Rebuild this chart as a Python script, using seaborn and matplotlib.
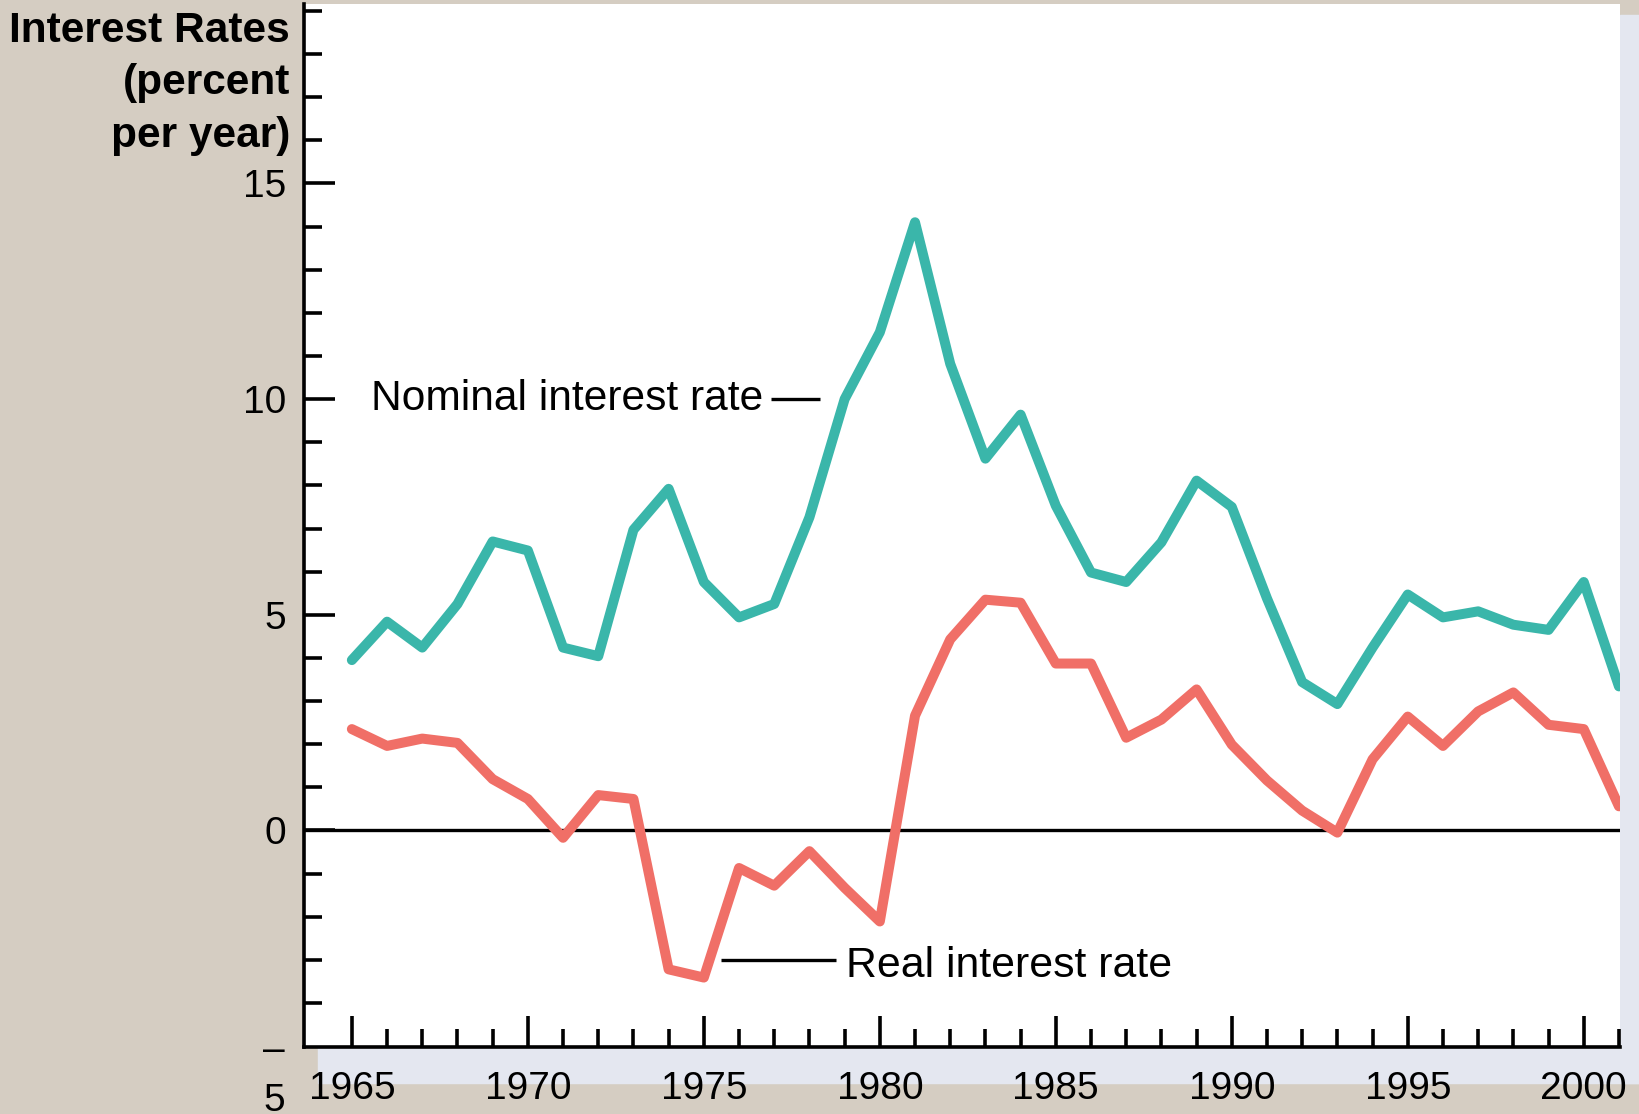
import matplotlib
matplotlib.use("Agg")
import matplotlib.pyplot as plt
import matplotlib.patches as mpatches
from matplotlib.ticker import FixedLocator
import seaborn as sns
import pandas as pd

years = list(range(1965, 2002))
nominal = [3.95, 4.84, 4.24, 5.25, 6.70, 6.49, 4.24, 4.04, 6.97, 7.92,
           5.76, 4.94, 5.25, 7.26, 10.0, 11.55, 14.1, 10.82, 8.62, 9.64,
           7.53, 5.98, 5.76, 6.68, 8.11, 7.50, 5.38, 3.44, 2.93, 4.24,
           5.47, 4.94, 5.08, 4.77, 4.65, 5.76, 3.34]
real = [2.35, 1.96, 2.13, 2.03, 1.19, 0.73, -0.17, 0.82, 0.73, -3.22,
        -3.41, -0.87, -1.28, -0.48, -1.33, -2.11, 2.66, 4.43, 5.35, 5.28,
        3.87, 3.87, 2.15, 2.57, 3.27, 1.99, 1.16, 0.46, -0.05, 1.65,
        2.64, 1.96, 2.76, 3.20, 2.45, 2.35, 0.56]

df = pd.DataFrame({"year": years, "nominal": nominal, "real": real})

TAN = "#d5cdc2"
BAND = "#e4e7f0"
TEAL = "#3ab6aa"
CORAL = "#f06f67"

sns.set_style("white")
plt.rcParams["font.family"] = ["Liberation Sans", "DejaVu Sans"]
plt.rcParams["text.color"] = "black"

fig = plt.figure(figsize=(16.39, 11.14), dpi=100, facecolor=TAN)
W, H = 1639, 1114

# light panel behind the plot (bottom strip + right column)
fig.patches.append(mpatches.Rectangle((318 / W, 1 - 1083 / H), (W - 318) / W, 36 / H,
                                      transform=fig.transFigure, color=BAND, zorder=-1))
fig.patches.append(mpatches.Rectangle((1620 / W, 1 - 1083 / H), 19 / W, (1083 - 15) / H,
                                      transform=fig.transFigure, color=BAND, zorder=-1))

ax = fig.add_axes([304 / W, 1 - 1047 / H, (1620 - 304) / W, (1047 - 4) / H])
ax.set_facecolor("white")

ax.axhline(0, color="black", lw=2.4, zorder=1)
sns.lineplot(data=df, x="year", y="nominal", ax=ax, color=TEAL, lw=7.2,
             solid_joinstyle="round", solid_capstyle="round", zorder=3)
sns.lineplot(data=df, x="year", y="real", ax=ax, color=CORAL, lw=7.2,
             solid_joinstyle="round", solid_capstyle="round", zorder=3)

ax.set_xlim(1963.64, 2001.03)
ax.set_ylim(-5.02, 19.16)
ax.set_xlabel("")
ax.set_ylabel("")

for s in ["top", "right"]:
    ax.spines[s].set_visible(False)
for s in ["left", "bottom"]:
    ax.spines[s].set_linewidth(2.6)
    ax.spines[s].set_color("black")

ax.set_xticks(range(1965, 2001, 5))
ax.xaxis.set_minor_locator(FixedLocator(range(1966, 2002)))
ax.set_yticks([0, 5, 10, 15], labels=["0", "5", "10", "15"])
ax.yaxis.set_minor_locator(FixedLocator(range(-4, 20)))

ax.tick_params(axis="both", which="both", bottom=True, left=True,
               direction="in", width=2.6, color="black")
ax.tick_params(axis="both", which="major", length=22, labelsize=28,
               labelcolor="black")
ax.tick_params(axis="both", which="minor", length=13)
ax.tick_params(axis="x", which="major", pad=17)
ax.tick_params(axis="y", which="major", pad=13)

# -5 label, written as in the original (dash above the 5)
ax.text(-0.0145, -5.7, "–\n5", transform=ax.get_yaxis_transform(), ha="right",
        va="center", fontsize=28, linespacing=1.5)

# series labels with leader lines
ax.text(1965.54, 10, "Nominal interest rate", fontsize=30.6, va="center", ha="left")
ax.hlines(10, 1976.9, 1978.3, color="black", lw=2.4)
ax.text(1979.05, -3.15, "Real interest rate", fontsize=30.8, va="center", ha="left")
ax.hlines(-3.0, 1975.48, 1978.75, color="black", lw=2.4)

fig.text(290 / W, 1 - 11 / H, "Interest Rates\n(percent\nper year)", ha="right",
         va="top", fontsize=30.5, fontweight="bold", linespacing=1.4,
         multialignment="right")

fig.savefig("out.png", dpi=100, facecolor=TAN)
